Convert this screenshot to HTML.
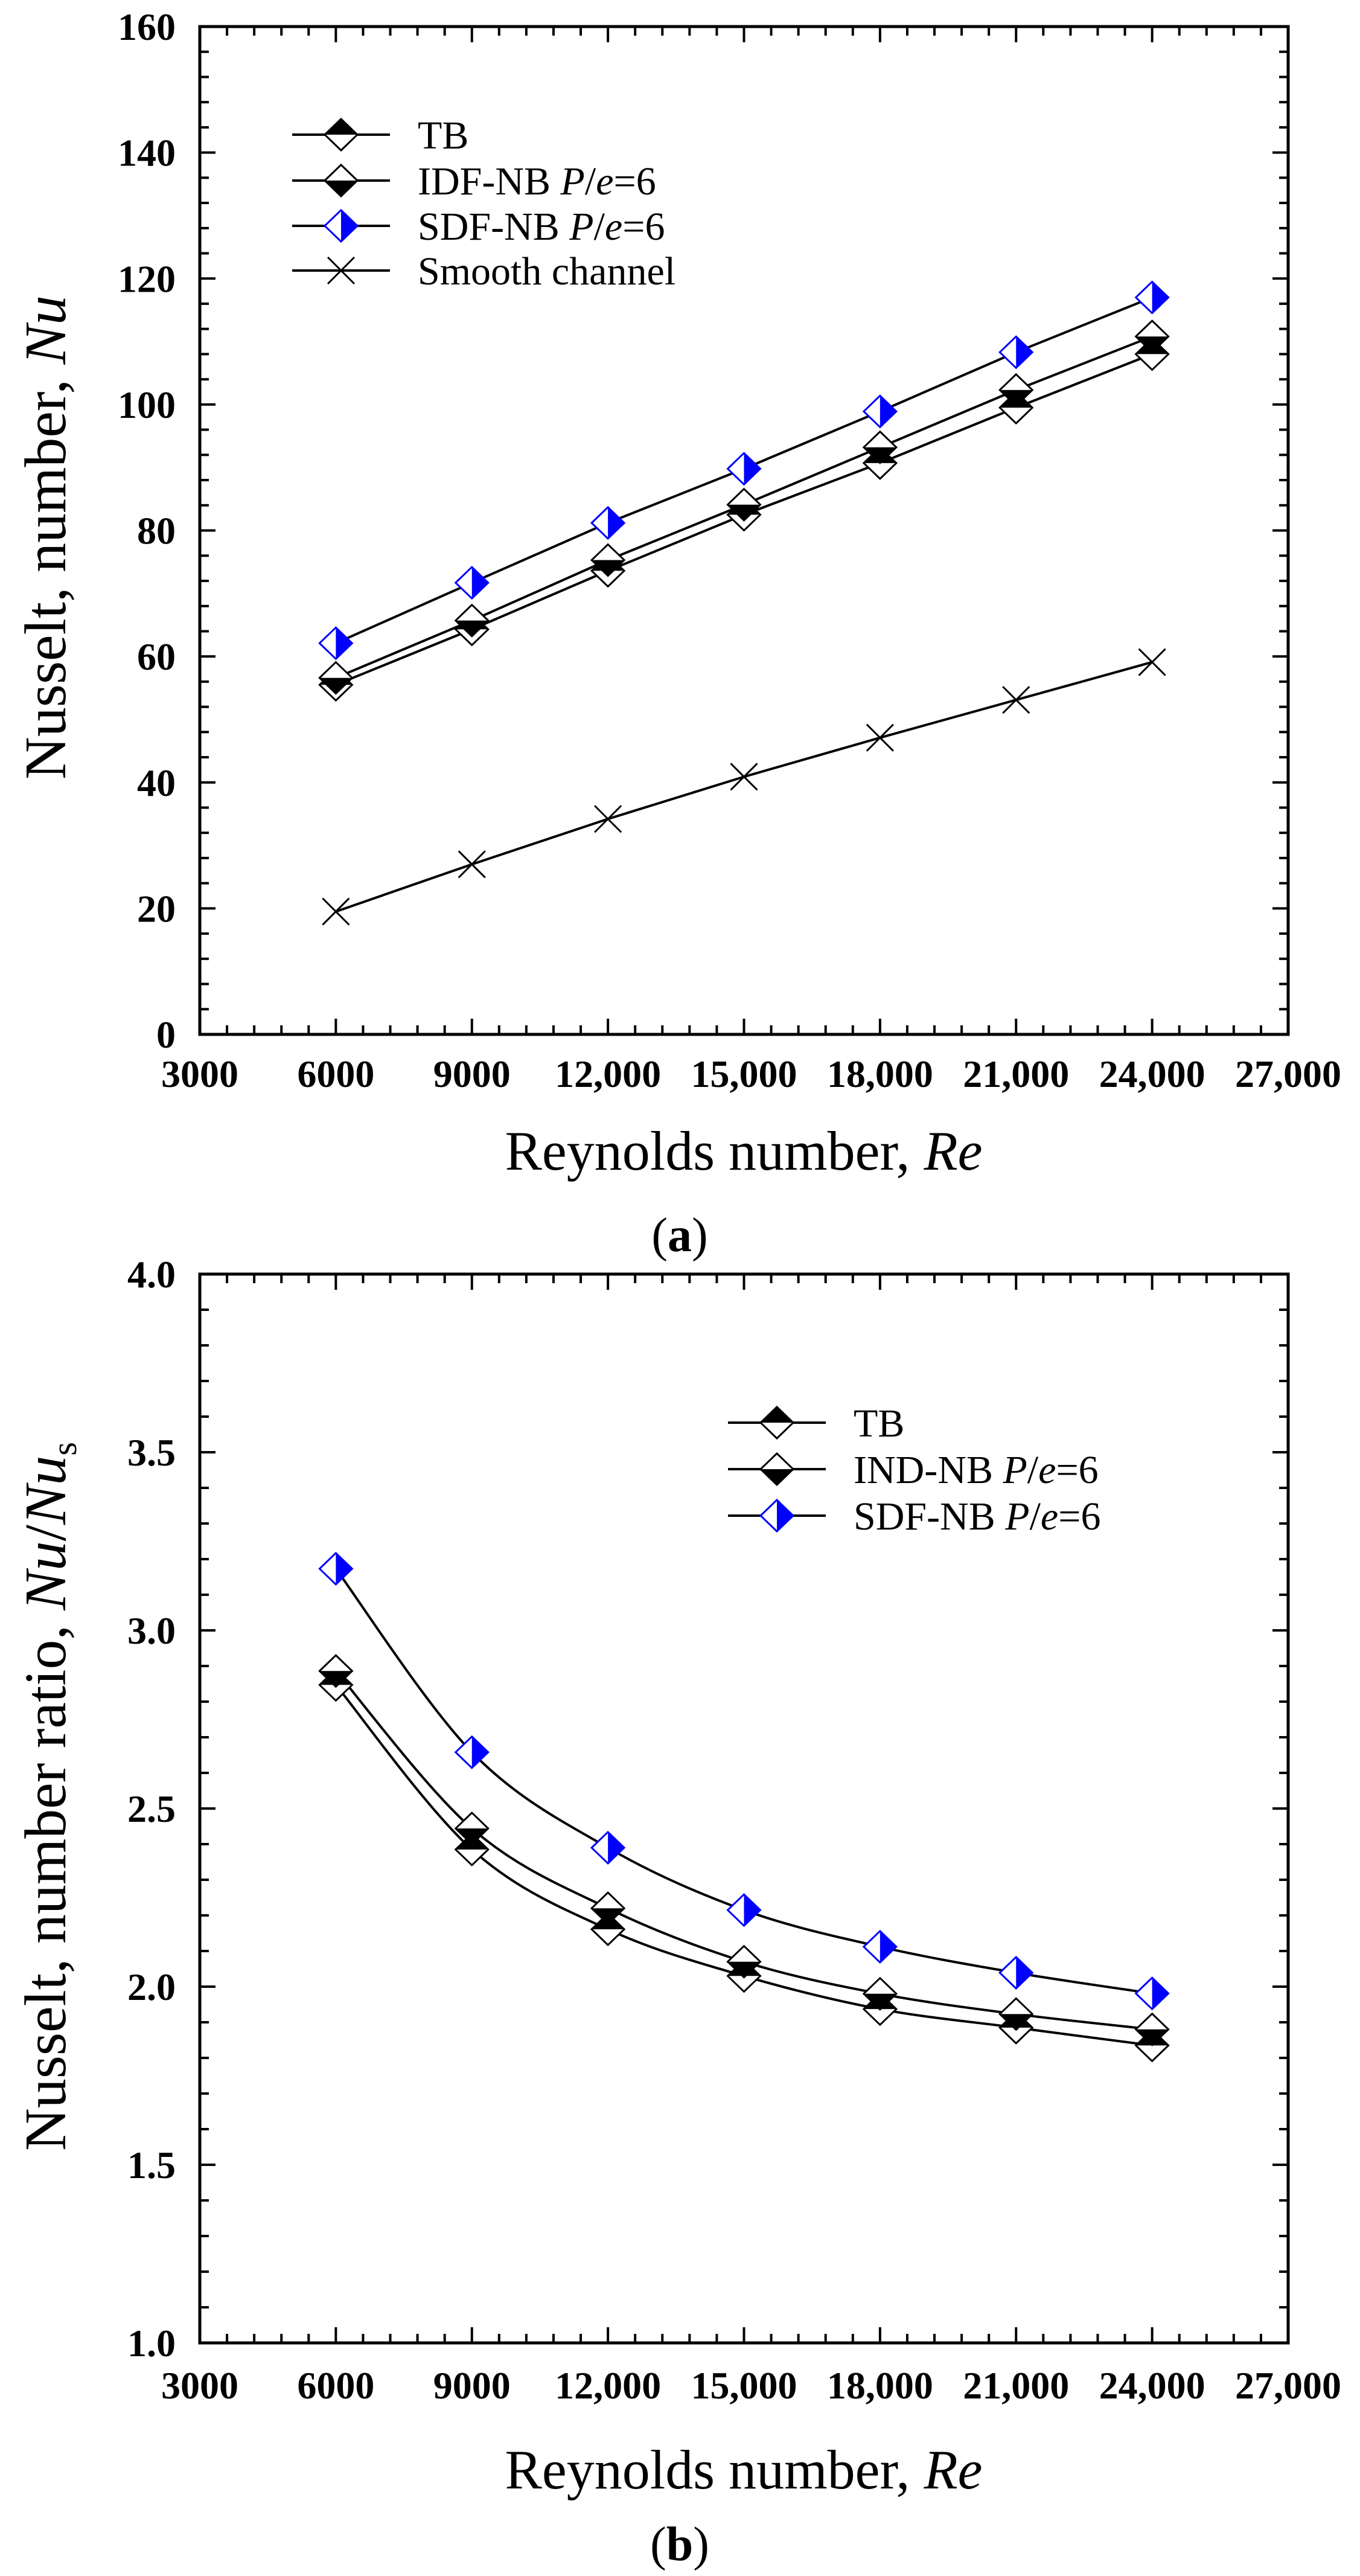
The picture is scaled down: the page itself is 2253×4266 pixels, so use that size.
<!DOCTYPE html>
<html><head><meta charset="utf-8"><style>
html,body{margin:0;padding:0;background:#fff;}
svg{display:block;}
text{font-family:"Liberation Serif",serif;fill:#000;}
</style></head><body>
<svg id="fig" width="2253" height="4266" viewBox="0 0 2253 4266" xmlns="http://www.w3.org/2000/svg"></svg>
<script>
const reCats = [6000, 9000, 12000, 15000, 18000, 21000, 24000];
const xTicks = [3000, 6000, 9000, 12000, 15000, 18000, 21000, 24000, 27000];
const xTickLabels = ["3000", "6000", "9000", "12,000", "15,000", "18,000", "21,000", "24,000", "27,000"];
// chart (a)
const aTB = [55.5, 64.3, 73.6, 82.5, 90.7, 99.5, 108.0];
const aIDF = [56.6, 65.7, 75.3, 84.1, 93.2, 102.3, 110.8];
const aSDF = [62.1, 71.7, 81.2, 89.8, 98.9, 108.3, 117.0];
const aSmooth = [19.5, 27.0, 34.2, 40.9, 47.1, 53.1, 59.1];
const aYTicks = [0, 20, 40, 60, 80, 100, 120, 140, 160];
const aYTickLabels = ["0", "20", "40", "60", "80", "100", "120", "140", "160"];
// chart (b)
const bTB = [2.847, 2.385, 2.161, 2.03, 1.937, 1.885, 1.835];
const bIND = [2.886, 2.444, 2.22, 2.07, 1.98, 1.923, 1.88];
const bSDF = [3.173, 2.658, 2.39, 2.215, 2.112, 2.039, 1.981];
const bYTicks = [1.0, 1.5, 2.0, 2.5, 3.0, 3.5, 4.0];
const bYTickLabels = ["1.0", "1.5", "2.0", "2.5", "3.0", "3.5", "4.0"];

const NS = "http://www.w3.org/2000/svg";
const svg = document.getElementById('fig');
function el(tag, attrs, parent) {
  const e = document.createElementNS(NS, tag);
  for (const k in attrs) e.setAttribute(k, attrs[k]);
  (parent || svg).appendChild(e);
  return e;
}
const HW = 27, HH = 26;

function marker(g, type, cx, cy) {
  const top = `M${cx-HW},${cy} L${cx},${cy-HH} L${cx+HW},${cy} Z`;
  const bot = `M${cx-HW},${cy} L${cx},${cy+HH} L${cx+HW},${cy} Z`;
  const full = `M${cx-HW},${cy} L${cx},${cy-HH} L${cx+HW},${cy} L${cx},${cy+HH} Z`;
  if (type === 'tb') {
    el('path', {d: full, fill: '#fff', stroke: 'none'}, g);
    el('path', {d: top, fill: '#000'}, g);
    el('path', {d: full, fill: 'none', stroke: '#000', 'stroke-width': 3}, g);
  } else if (type === 'idf') {
    el('path', {d: full, fill: '#fff', stroke: 'none'}, g);
    el('path', {d: bot, fill: '#000'}, g);
    el('path', {d: full, fill: 'none', stroke: '#000', 'stroke-width': 3}, g);
  } else if (type === 'sdf') {
    el('path', {d: full, fill: '#fff', stroke: 'none'}, g);
    el('path', {d: `M${cx},${cy-HH} L${cx+HW},${cy} L${cx},${cy+HH} Z`, fill: '#0000ff'}, g);
    el('path', {d: full, fill: 'none', stroke: '#0000ff', 'stroke-width': 3}, g);
  } else {
    const s = 22;
    el('path', {d: `M${cx-s},${cy-s} L${cx+s},${cy+s} M${cx-s},${cy+s} L${cx+s},${cy-s}`, stroke: '#000', 'stroke-width': 3, fill: 'none'}, g);
  }
}
function smoothPath(pts) {
  let d = `M${pts[0][0]},${pts[0][1]}`;
  for (let i = 0; i < pts.length - 1; i++) {
    const p0 = pts[Math.max(0, i-1)], p1 = pts[i], p2 = pts[i+1], p3 = pts[Math.min(pts.length-1, i+2)];
    const c1x = p1[0] + (p2[0]-p0[0])/6, c1y = p1[1] + (p2[1]-p0[1])/6;
    const c2x = p2[0] - (p3[0]-p1[0])/6, c2y = p2[1] - (p3[1]-p1[1])/6;
    d += ` C${c1x},${c1y} ${c2x},${c2y} ${p2[0]},${p2[1]}`;
  }
  return d;
}

function chart(cfg) {
  const L = 331, R = 2134, T = cfg.top, B = cfg.bottom;
  const xs = v => L + (v - 3000) / 24000 * (R - L);
  const ys = v => B - (v - cfg.yMin) / (cfg.yMax - cfg.yMin) * (B - T);
  const g = el('g', {});
  
  
  const tg = el('g', {stroke: '#000', 'stroke-width': 4}, g);
  
  
  for (let v = 3000; v <= 27000; v += 600) {
    const major = (v % 3000 === 0);
    const len = major ? 26 : 15, x = xs(v);
    el('line', {x1: x, y1: B, x2: x, y2: B - len}, tg);
    el('line', {x1: x, y1: T, x2: x, y2: T + len}, tg);
  }
  const nMin = 5;
  const nAll = (cfg.yTicks.length - 1) * nMin;
  for (let i = 0; i <= nAll; i++) {
    const v = cfg.yMin + i * (cfg.yMax - cfg.yMin) / nAll;
    const major = (i % nMin === 0);
    const len = major ? 26 : 15, y = ys(v);
    el('line', {x1: L, y1: y, x2: L + len, y2: y}, tg);
    el('line', {x1: R, y1: y, x2: R - len, y2: y}, tg);
  }
  const fr = el('rect', {x: L, y: T, width: R - L, height: B - T, fill: 'none', stroke: '#000', 'stroke-width': 5}, g);
  
  
  xTicks.forEach((v, i) => {
    const t = el('text', {x: xs(v), y: cfg.xLabelY, 'text-anchor': 'middle', 'font-size': 64, 'font-weight': 'bold'}, g);
    t.textContent = xTickLabels[i];
    
    
  });
  cfg.yTicks.forEach((v, i) => {
    const t = el('text', {x: 291, y: ys(v) + 22, 'text-anchor': 'end', 'font-size': 64, 'font-weight': 'bold'}, g);
    t.textContent = cfg.yTickLabels[i];
    
    
  });
  const xt = el('text', {x: 1232, y: cfg.xTitleY, 'text-anchor': 'middle', 'font-size': 92}, g);
  xt.innerHTML = 'Reynolds number, <tspan font-style="italic">Re</tspan>';
  
  
  const yt = el('text', {x: 0, y: 0, 'text-anchor': 'middle', 'font-size': 98, transform: `translate(108,${cfg.yTitleC}) rotate(-90)`}, g);
  yt.innerHTML = cfg.yTitle;
  
  
  cfg.series.forEach(s => {
    const sg = el('g', {}, g);
    
    
    const pts = reCats.map((r, i) => [xs(r), ys(s.vals[i])]);
    const d = cfg.smooth ? smoothPath(pts) : 'M' + pts.map(p => p.join(',')).join(' L');
    el('path', {d: d, fill: 'none', stroke: '#000', 'stroke-width': 4}, sg);
  });
  cfg.series.forEach(s => {
    reCats.forEach((r, i) => {
      const mg = el('g', {}, g);
      
      
      marker(mg, s.type, xs(r), ys(s.vals[i]));
    });
  });
  const lg = el('g', {}, g);
  
  
  cfg.series.slice().sort((a, b) => a.lo - b.lo).forEach(s => {
    const eg = el('g', {}, lg);
    
    
    const y = s.lo;
    el('line', {x1: cfg.legX, y1: y, x2: cfg.legX + 162, y2: y, stroke: '#000', 'stroke-width': 4}, eg);
    marker(eg, s.type, cfg.legX + 81, y);
    const t = el('text', {x: cfg.legX + 208, y: y + 23, 'font-size': 66}, eg);
    t.innerHTML = s.label;
  });
  const pl = el('text', {x: 1126, y: cfg.panelY, 'text-anchor': 'middle', 'font-size': 80}, g);
  pl.innerHTML = '(<tspan font-weight="bold">' + cfg.panel + '</tspan>)';
  
  
}

chart({
  name: 'chart-a-nusselt', top: 44, bottom: 1713, yMin: 0, yMax: 160,
  yTicks: aYTicks, yTickLabels: aYTickLabels, xLabelY: 1800, xTitleY: 1937,
  yTitle: 'Nusselt, number, <tspan font-style="italic">Nu</tspan>', yTitleC: 890,
  smooth: false, legX: 484, panel: 'a', panelY: 2072,
  series: [
    {key: 'tb', type: 'tb', vals: aTB, label: 'TB', lo: 223},
    {key: 'idf-nb', type: 'idf', vals: aIDF, label: 'IDF-NB <tspan font-style="italic">P</tspan>/<tspan font-style="italic">e</tspan>=6', lo: 299},
    {key: 'sdf-nb', type: 'sdf', vals: aSDF, label: 'SDF-NB <tspan font-style="italic">P</tspan>/<tspan font-style="italic">e</tspan>=6', lo: 374},
    {key: 'smooth-channel', type: 'x', vals: aSmooth, label: 'Smooth channel', lo: 448}
  ]
});
chart({
  name: 'chart-b-nusselt-ratio', top: 2110, bottom: 3880, yMin: 1.0, yMax: 4.0,
  yTicks: bYTicks, yTickLabels: bYTickLabels, xLabelY: 3972, xTitleY: 4121,
  yTitle: 'Nusselt, number ratio, <tspan font-style="italic">Nu</tspan>/<tspan font-style="italic">Nu</tspan><tspan font-size="58" dy="18">s</tspan>', yTitleC: 2975,
  smooth: true, legX: 1206, panel: 'b', panelY: 4240,
  series: [
    {key: 'tb', type: 'tb', vals: bTB, label: 'TB', lo: 2356},
    {key: 'ind-nb', type: 'idf', vals: bIND, label: 'IND-NB <tspan font-style="italic">P</tspan>/<tspan font-style="italic">e</tspan>=6', lo: 2433},
    {key: 'sdf-nb', type: 'sdf', vals: bSDF, label: 'SDF-NB <tspan font-style="italic">P</tspan>/<tspan font-style="italic">e</tspan>=6', lo: 2510}
  ]
});
</script>
</body></html>
